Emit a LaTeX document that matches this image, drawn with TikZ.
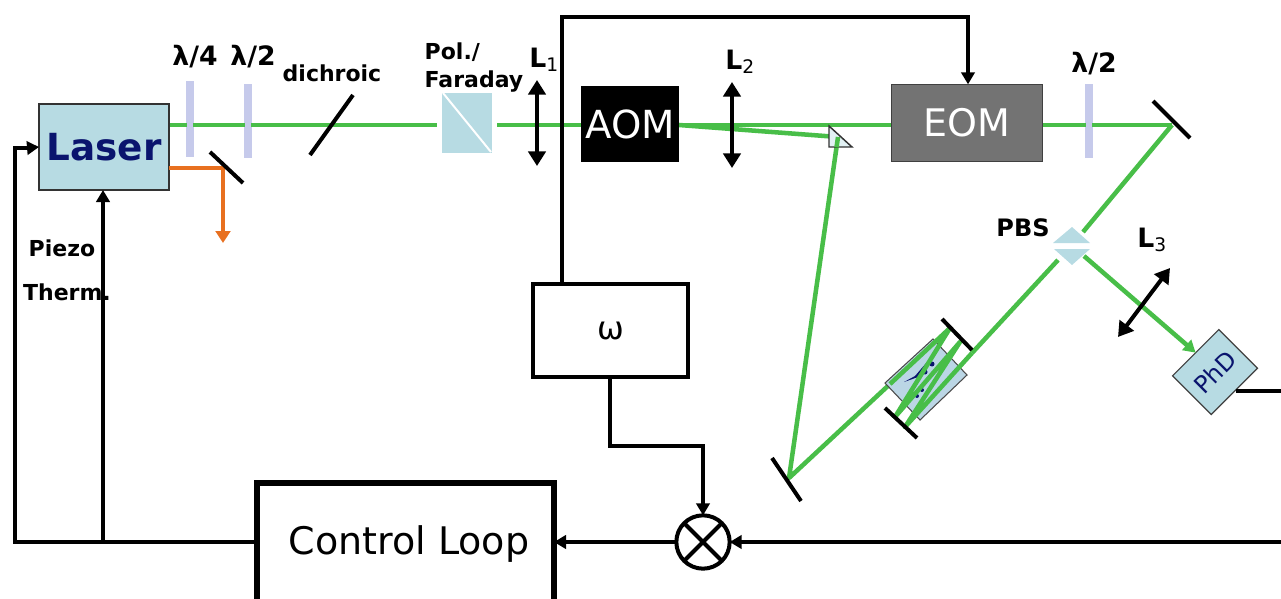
\documentclass[tikz,border=0pt]{standalone}
\usepackage{fontspec}
\setmainfont{DejaVu Sans}
\usetikzlibrary{arrows.meta,calc}
\definecolor{beam}{RGB}{72,190,72}
\definecolor{boxblue}{RGB}{183,219,227}
\definecolor{plate}{RGB}{198,202,235}
\definecolor{orangeb}{RGB}{232,112,32}
\definecolor{navy}{RGB}{10,20,110}
\tikzset{
 wire/.style={line width=3pt,black},
 wirearrow/.style={wire,-{Triangle[length=9pt,width=10pt]}},
 ray/.style={line width=3.4pt,beam},
 rayarrow/.style={ray,-{Triangle[length=9pt,width=10pt]}},
 orangeray/.style={line width=3.4pt,orangeb},
 mirror/.style={line width=3pt,black},
 lens/.style={line width=3pt,black,{Triangle[length=11pt,width=13pt]}-{Triangle[length=11pt,width=13pt]}},
 opt/.style={inner sep=0pt,outer sep=0pt,rectangle,align=center},
 lab/.style={inner sep=0pt,font=\bfseries\fontsize{16.5}{16.5}\selectfont},
 lamlab/.style={inner sep=0pt,font=\bfseries\fontsize{20}{20}\selectfont},
 lenslab/.style={inner sep=0pt,anchor=west,font=\bfseries\fontsize{20}{20}\selectfont},
}
\begin{document}
\begin{tikzpicture}[x=0.75pt,y=-0.75pt]
\useasboundingbox (0,0) rectangle (1281,599);
% beam
\coordinate (bA) at (169,125);
\coordinate (m4) at (1172,125);
\coordinate (pr) at (838,137);
\coordinate (m5) at (789,478);
\coordinate (pbsT) at (1083,232);
\coordinate (pbsB) at (1058,260);
\coordinate (pbsR) at (1084,256);
\coordinate (cavIn) at (950,328);
\coordinate (cavOut) at (905,427);
\draw[ray] (bA) -- (437,125);
\draw[ray] (497,125) -- (581,125);
\draw[ray] (679,125) -- (m4);
\draw[ray,line join=round] (679,125) -- (pr) -- (m5) -- (890,384);
\draw[ray] (m4) -- (pbsT);
\draw[ray] (pbsB) -- (972,353);
% nodes
\node[opt,draw=black!80,line width=0.9pt,fill=boxblue,minimum width=97.5pt,minimum height=64.5pt,text=navy,font=\bfseries\fontsize{28}{28}\selectfont] (laser) at (104,147) {Laser};
\node[opt,fill=black,text=white,minimum width=73.5pt,minimum height=57pt,font=\fontsize{29}{29}\selectfont] (aom) at (630,124) {AOM};
\node[opt,draw=black!75,line width=0.8pt,fill=black!55,text=white,minimum width=113pt,minimum height=58pt,font=\fontsize{28.5}{28.5}\selectfont] (eom) at (967,123) {EOM};
\node[opt,draw=black,line width=3pt,minimum width=116pt,minimum height=70pt,font=\fontsize{24}{24}\selectfont] (omega) at (610.5,330.5) {ω};
\node[circle,draw=black,line width=3pt,minimum size=40pt,inner sep=0pt,outer sep=0pt] (mixer) at (703,542) {};
\draw[line width=3pt] (mixer.45)--(mixer.225) (mixer.135)--(mixer.315);
\node[inner sep=0pt,font=\fontsize{28.5}{28.5}\selectfont] (ctrl) at (409,544) {Control Loop};
\coordinate (ctrlL) at (257,542);
\coordinate (ctrlR) at (554,542);
\draw[line width=4.5pt] (257,599) -- (257,483) -- (554,483) -- (554,599);
% waveplates
\node[opt,fill=plate,minimum width=6pt,minimum height=57pt] (qw) at (190,119) {};
\node[opt,fill=plate,minimum width=6pt,minimum height=56pt] (hw) at (248,121) {};
\node[opt,fill=plate,minimum width=6pt,minimum height=56pt] (hw2) at (1089,121) {};
\draw[ray] (183,125) -- (187,125) (193,125) -- (197,125) (241,125) -- (245,125) (251,125) -- (255,125) (1082,125) -- (1086,125) (1092,125) -- (1096,125);
% orange
\coordinate (oA) at (169,168);
\coordinate (oB) at (223,168);
\coordinate (oC) at (223,243);
\draw[orangeray,-{Triangle[length=9pt,width=11pt]},line join=miter] (oA) -- (oB) -- (oC);
% mirrors
\draw[mirror] (210,152) -- (243,183);
\draw[mirror] (310,155) -- (353,95);
\draw[mirror] (1153,101) -- (1190,138);
\draw[mirror] (772,458) -- (801,501);
% Pol cube
\node[opt,fill=boxblue,minimum width=37.5pt,minimum height=45pt] (pol) at (467,123) {};
\draw[white,line width=1.5pt] (443,93) -- (491,152);
% lenses
\draw[lens] (537,80) -- (537,166);
\draw[lens] (732,82) -- (732,168);
\coordinate (l3a) at (1170,268);
\coordinate (l3b) at (1118,337);
% prism
\draw[black!80,line width=1.1pt,fill=boxblue!40] (829,126) -- (852,147) -- (829,147) -- cycle;
\draw[ray] (pr) -- ($(pr)!0.03!(m5)$);
% RF wires
\coordinate (w1) at (562,17);
\coordinate (w2) at (968,17);
\draw[wirearrow] (omega.north -| 562,284) -- (w1) -- (w2) -- (eom.north -| 968,84);
\coordinate (w3) at (610,446);
\coordinate (w4) at (703,446);
\draw[wirearrow] (omega.south -| 610,377) -- (w3) -- (w4) -- (mixer.north);
\coordinate (r1) at (1281,542);
\draw[wirearrow] (r1) -- (mixer.east);
\draw[wirearrow] (mixer.west) -- (ctrlR);
\coordinate (j) at (103,542);
\coordinate (k) at (15,542);
\coordinate (k2) at (15,148);
\draw[wire] (ctrlL) -- (k) -- (k2) -- (27,148);
\draw[wirearrow] (27,148) -- (laser.west);
\draw[wirearrow] (j) -- (laser.south -| j);
% PBS
\fill[boxblue] (1053,243) -- (1072,227) -- (1090,243) -- cycle;
\fill[boxblue] (1054,249) -- (1072,265) -- (1090,249) -- cycle;
% cavity crystal
\fill[boxblue!70!plate,draw=black!70,line width=0.8pt] (933,339) -- (967,375) -- (920,420) -- (885,383) -- cycle;
\fill[navy] (904,382) -- (921,376) -- (927,362) -- (915,376) -- cycle;
\fill[navy] (925,372) circle (2.5) (932,364) circle (2.5) (917,396) circle (2) (922,390) circle (2);
% cavity rays
\draw[ray,line join=round] (890,384) -- (cavIn) -- (895,417) -- (960,342) -- (cavOut) -- (972,353);
% cavity mirrors
\draw[mirror] (942,319) -- (972,350);
\draw[mirror] (885,408) -- (917,438);
% after PBS
\node[opt,draw=black!75,line width=0.9pt,fill=boxblue,minimum width=49pt,minimum height=41pt,rotate=45,text=navy,font=\fontsize{18}{18}\selectfont] (phd) at (1215,372) {PhD};
\draw[rayarrow] (pbsR) -- (phd.north);
\draw[lens] (l3a) -- (l3b);
\coordinate (pw) at (1281,391);
\draw[wire] (1236,391) -- (pw);
% labels
\node[lamlab] (t1) at (195,57) {λ/4};
\node[lamlab] (t2) at (253,57) {λ/2};
\node[lamlab] (t3) at (1094,64) {λ/2};
\node[lab] (t4) at (332,73) {dichroic};
\node[lab,align=left,font=\bfseries\fontsize{16.5}{21}\selectfont] (t5) at (474,68) {Pol./\\Faraday};
\node[lab,font=\bfseries\fontsize{18}{18}\selectfont] (t6) at (1023,228) {PBS};
\node[lab] (t7) at (62,248) {Piezo};
\node[lab] (t8) at (67,292) {Therm.};
\node[lenslab] (l1) at (529,60) {L\textsubscript{\mdseries 1}};
\node[lenslab] (l2) at (725,62) {L\textsubscript{\mdseries 2}};
\node[lenslab] (l3) at (1137,240) {L\textsubscript{\mdseries 3}};
\end{tikzpicture}
\end{document}
